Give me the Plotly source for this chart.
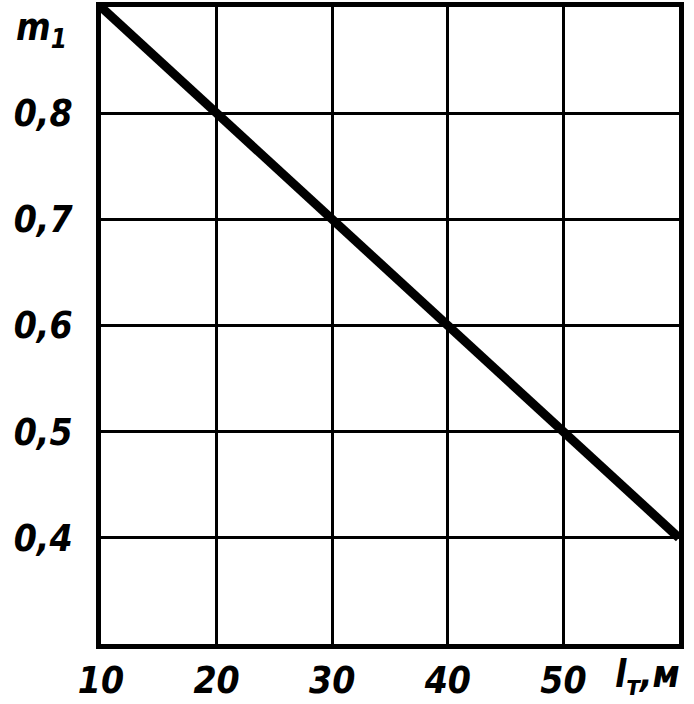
import plotly.graph_objects as go

# l_t, m  ->  m_1
length_m = [10, 20, 30, 40, 50, 60]
m1 = [0.9, 0.8, 0.7, 0.6, 0.5, 0.4]

x_ticks = [10, 20, 30, 40, 50]
x_tick_text = ["10", "20", "30", "40", "50"]
y_ticks = [0.4, 0.5, 0.6, 0.7, 0.8]
y_tick_text = ["0,4", "0,5", "0,6", "0,7", "0,8"]

FONT = {"family": "DejaVu Sans Condensed, sans-serif",
        "size": 37, "color": "black", "style": "italic", "weight": "bold"}

fig = go.Figure(
    go.Scatter(x=length_m, y=m1, mode="lines",
               line={"color": "black", "width": 9}, hoverinfo="skip")
)

axis_style = {
    "showgrid": True,
    "gridcolor": "black",
    "gridwidth": 3,
    "zeroline": False,
    "showline": True,
    "linecolor": "black",
    "linewidth": 5,
    "mirror": True,
    "ticks": "",
    "automargin": False,
    "tickfont": FONT,
}

fig.update_layout(
    width=694,
    height=704,
    plot_bgcolor="white",
    paper_bgcolor="white",
    margin={"l": 101, "r": 15, "t": 7, "b": 60},
    font=FONT,
    showlegend=False,
    xaxis={**axis_style, "range": [10, 60], "tickvals": x_ticks,
           "ticktext": x_tick_text, "ticklabelstandoff": 0},
    yaxis={**axis_style, "range": [0.3, 0.9], "tickvals": y_ticks,
           "ticktext": y_tick_text, "ticklabelstandoff": 16},
    annotations=[
        {"text": "m<sub>1</sub>", "xref": "paper", "yref": "paper",
         "x": -0.15, "y": 1.005, "yanchor": "top", "showarrow": False,
         "font": FONT},
        {"text": "l<sub>т</sub>,м", "xref": "x", "yref": "paper",
         "x": 57.3, "y": -0.092, "showarrow": False, "font": FONT},
    ],
)

fig.write_html("out.html", config={"displayModeBar": False},
               post_script="document.body.style.margin = '0';")
